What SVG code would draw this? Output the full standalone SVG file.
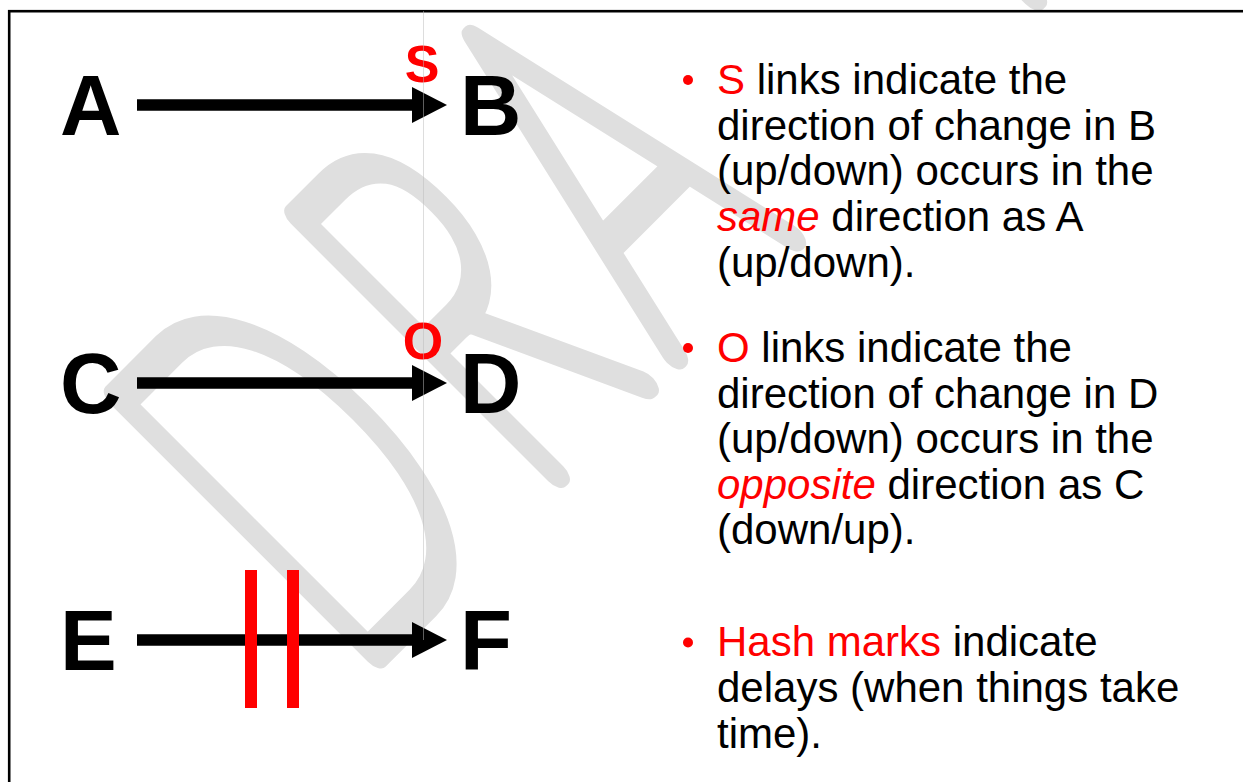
<svg xmlns="http://www.w3.org/2000/svg" width="1243" height="782" viewBox="0 0 1243 782">
  <defs>
    <marker id="arrowhead" viewBox="0 0 35 36" refX="3" refY="18" markerWidth="35" markerHeight="36" markerUnits="userSpaceOnUse" orient="auto">
      <path d="M0,0 L35,18 L0,36 Z" fill="#000"/>
    </marker>
    <style>
      .node { font-family: "Liberation Sans", Arial, sans-serif; font-weight: bold; font-size: 85px; fill: #000; }
      .sign { font-family: "Liberation Sans", Arial, sans-serif; font-weight: bold; font-size: 52px; fill: #ff0000; text-anchor: middle; }
      .link { stroke: #000; stroke-width: 11.5; fill: none; marker-end: url(#arrowhead); }
      .delay { fill: #ff0000; }
      .body { font-family: "Liberation Sans", Arial, sans-serif; font-size: 42px; fill: #000; }
      .hl { fill: #ff0000; }
      .em { fill: #ff0000; font-style: italic; }
      .bullet { fill: #ff0000; }
      .watermark { font-family: Lato, "DejaVu Sans", sans-serif; font-weight: 100; font-size: 520px; fill: #dfdfdf; stroke: #dfdfdf; stroke-width: 26; stroke-linejoin: round; stroke-linecap: round; vector-effect: non-scaling-stroke; }
    </style>
  </defs>

  <rect width="1243" height="782" fill="#fff"/>

  <!-- background watermark -->
  <g id="watermark">
    <text class="watermark" transform="rotate(-45) scale(0.55 1)" x="-422 42 396 1269 1636" y="728">DRAFT</text>
  </g>

  <!-- slide frame -->
  <rect x="9.2" y="11.2" width="1260" height="800" fill="none" stroke="#000" stroke-width="2.6"/>

  <!-- connectors -->
  <g id="connectors">
    <line class="link" x1="137" y1="105" x2="415" y2="105"/>
    <line class="link" x1="137" y1="383" x2="415" y2="383"/>
    <line class="link" x1="137" y1="640" x2="415" y2="640"/>
    <text class="sign" x="422" y="81.5">S</text>
    <text class="sign" x="423" y="359">O</text>
    <rect class="delay" x="245" y="570" width="12" height="138"/>
    <rect class="delay" x="287" y="570" width="12" height="138"/>
  </g>

  <!-- nodes -->
  <g id="node-a"><text class="node" x="60" y="135">A</text></g>
  <g id="node-b"><text class="node" x="460" y="135">B</text></g>
  <g id="node-c"><text class="node" x="60" y="413">C</text></g>
  <g id="node-d"><text class="node" x="460" y="413">D</text></g>
  <g id="node-e"><text class="node" x="60" y="670">E</text></g>
  <g id="node-f"><text class="node" x="460" y="670">F</text></g>

  <!-- legend -->
  <g id="legend">
    <circle class="bullet" cx="688" cy="80" r="5"/>
    <text class="body" x="717" y="94"><tspan class="hl">S</tspan> links indicate the</text>
    <text class="body" x="717" y="139.5">direction of change in B</text>
    <text class="body" x="717" y="185">(up/down) occurs in the</text>
    <text class="body" x="717" y="230.5"><tspan class="em">same</tspan> direction as A</text>
    <text class="body" x="717" y="276.5">(up/down).</text>

    <circle class="bullet" cx="688" cy="348" r="5"/>
    <text class="body" x="717" y="362"><tspan class="hl">O</tspan> links indicate the</text>
    <text class="body" x="717" y="407.5">direction of change in D</text>
    <text class="body" x="717" y="453">(up/down) occurs in the</text>
    <text class="body" x="717" y="498.5"><tspan class="em">opposite</tspan> direction as C</text>
    <text class="body" x="717" y="544">(down/up).</text>

    <circle class="bullet" cx="688" cy="642.5" r="5"/>
    <text class="body" x="717" y="656"><tspan class="hl">Hash marks</tspan> indicate</text>
    <text class="body" x="717" y="702">delays (when things take</text>
    <text class="body" x="717" y="747.5">time).</text>
  </g>

  <!-- faint guide line -->
  <line x1="423.5" y1="11" x2="423.5" y2="640" stroke="#bbb" stroke-opacity="0.5" stroke-width="1"/>
</svg>
